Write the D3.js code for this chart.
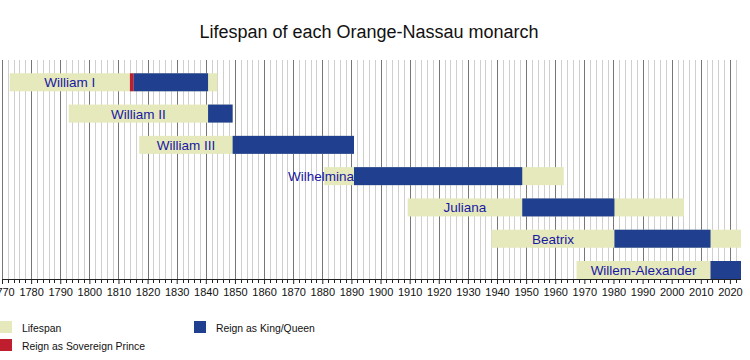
<!DOCTYPE html>
<html>
<head>
<meta charset="utf-8">
<script src="https://cdn.jsdelivr.net/npm/d3@7"></script>
<style>
  body { margin: 0; background: #fff; }
  svg { font-family: "Liberation Sans", Arial, Helvetica, sans-serif; }
</style>
</head>
<body>
<svg id="chart" width="750" height="360"></svg>
<script>
// monarchs, dates as decimal years
var monarchs = ["William I", "William II", "William III", "Wilhelmina", "Juliana", "Beatrix", "Willem-Alexander"];
var born = [1772.65, 1792.93, 1817.13, 1880.66, 1909.33, 1938.08, 1967.32];
var died = [1843.95, 1849.21, 1890.89, 1962.91, 2004.21, null, null];
var princeStart = [1813.93, null, null, null, null, null, null];
var princeEnd = [1815.21, null, null, null, null, null, null];
var reignStart = [1815.21, 1840.77, 1849.21, 1890.89, 1948.67, 1980.33, 2013.33];
var reignEnd = [1840.77, 1849.21, 1890.89, 1948.67, 1980.33, 2013.33, null];
var yearTicks = d3.range(1770, 2021, 10);
var legendItems = ["Lifespan", "Reign as Sovereign Prince", "Reign as King/Queen"];

var NOW = 2023.8;
var colors = { life: "#e5e9bb", prince: "#be1e2d", reign: "#213f8f", label: "#1818a4" };

var svg = d3.select("#chart");
var plotTop = 60, plotBottom = 279, plotLeft = 2, plotRight = 741;
var barH = 18;

var x = d3.scaleLinear().domain([1770, NOW]).range([plotLeft, plotRight]);
var y = d3.scaleBand().domain(monarchs).range([plotTop, plotBottom]);

//title
svg.append("text")
  .attr("x", 369).attr("y", 38)
  .attr("text-anchor", "middle")
  .style("font-size", "18px")
  .style("fill", "#111")
  .text("Lifespan of each Orange-Nassau monarch");

//grid
var minor = d3.range(1770, NOW, 2);
svg.append("g").selectAll("line")
  .data(minor)
  .enter().append("line")
  .attr("x1", function(d){ return Math.round(x(d)) + 0.5; })
  .attr("x2", function(d){ return Math.round(x(d)) + 0.5; })
  .attr("y1", plotTop).attr("y2", plotBottom)
  .style("stroke", function(d){ return d % 10 === 0 ? "#777" : "#cfcfcf"; })
  .style("stroke-width", 1);

//bars
var rows = monarchs.map(function(m, i){
  return { name: m, born: born[i], died: died[i] || NOW,
    ps: princeStart[i], pe: princeEnd[i],
    rs: reignStart[i], re: reignEnd[i] || NOW };
});

function barY(d){ return y(d.name) + y.bandwidth() - barH; }

var g = svg.append("g");
g.selectAll("rect.life").data(rows).enter().append("rect")
  .attr("class", "life")
  .attr("x", function(d){ return x(d.born); })
  .attr("width", function(d){ return x(d.died) - x(d.born); })
  .attr("y", barY).attr("height", barH)
  .style("fill", colors.life);

g.selectAll("rect.prince").data(rows.filter(function(d){ return d.ps != null; })).enter().append("rect")
  .attr("class", "prince")
  .attr("x", function(d){ return x(d.ps); })
  .attr("width", function(d){ return x(d.pe) - x(d.ps); })
  .attr("y", barY).attr("height", barH)
  .style("fill", colors.prince);

g.selectAll("rect.reign").data(rows).enter().append("rect")
  .attr("class", "reign")
  .attr("x", function(d){ return x(d.rs); })
  .attr("width", function(d){ return x(d.re) - x(d.rs); })
  .attr("y", barY).attr("height", barH)
  .style("fill", colors.reign);

//labels: centred in the part of life before the reign, pushed left if too long
var firstReign = function(d){ return d.ps != null ? d.ps : d.rs; };
g.selectAll("text.name").data(rows).enter().append("text")
  .attr("class", "name")
  .attr("y", function(d){ return barY(d) + barH / 2 + 5; })
  .style("font-size", "13.5px")
  .style("fill", colors.label)
  .text(function(d){ return d.name; })
  .each(function(d){
    var a = x(d.born), b = x(firstReign(d));
    var w = this.getComputedTextLength();
    var el = d3.select(this);
    if (w + 4 > b - a) {
      el.attr("x", b).attr("text-anchor", "end");
    } else {
      el.attr("x", (a + b) / 2).attr("text-anchor", "middle");
    }
  });

//axis
var axis = d3.axisBottom(x).tickValues(yearTicks).tickFormat(d3.format("d")).tickSize(5).tickPadding(4);
var ax = svg.append("g").attr("transform", "translate(0," + plotBottom + ")").call(axis);
ax.select(".domain").attr("d", "M" + plotLeft + ",0.5H" + plotRight).style("stroke", "#222");
ax.selectAll(".tick line").style("stroke", "#222");
ax.selectAll(".tick text").style("font-size", "11px").style("fill", "#111")
  .style("font-family", "'Liberation Sans', Arial, sans-serif");

ax.append("g").selectAll("line")
  .data(minor.filter(function(d){ return d % 10 !== 0; }))
  .enter().append("line")
  .attr("x1", function(d){ return Math.round(x(d)) + 0.5; })
  .attr("x2", function(d){ return Math.round(x(d)) + 0.5; })
  .attr("y1", 0).attr("y2", 4)
  .style("stroke", "#222");

//legend
var legendPos = [[0, 321], [0, 339], [194, 321]];
var legendCol = [colors.life, colors.prince, colors.reign];
var lg = svg.append("g").selectAll("g")
  .data(legendItems)
  .enter().append("g")
  .attr("transform", function(d, i){ return "translate(" + legendPos[i][0] + "," + legendPos[i][1] + ")"; });
lg.append("rect")
  .attr("width", 12).attr("height", 12)
  .style("fill", function(d, i){ return legendCol[i]; });
lg.append("text")
  .attr("x", 22).attr("y", 11)
  .style("font-size", "10.4px")
  .style("fill", "#111")
  .text(function(d){ return d; });
</script>
</body>
</html>
